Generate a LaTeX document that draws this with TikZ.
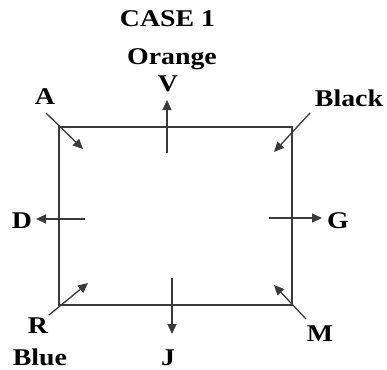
\documentclass[tikz,border=0pt]{standalone}
\usepackage{fontspec}
\setmainfont{Liberation Serif}[FakeStretch=1.16]
\usetikzlibrary{arrows.meta}
\definecolor{linegray}{HTML}{3A3A3A}
\begin{document}
\begin{tikzpicture}[x=1pt,y=-1pt,
  lbl/.style={font=\bfseries\fontsize{24}{28}\selectfont, inner sep=0pt, anchor=base},
  arr/.style={line width=1.3pt, draw=linegray, -{Triangle[length=10pt,width=9pt]}}]
\useasboundingbox (0,0) rectangle (387,369);
\node[draw=linegray, line width=1.3pt, minimum width=233pt, minimum height=178pt, inner sep=0pt] (box) at (175.5,216) {};
% labels
\node[lbl] (case) at (167.5,27) {CASE 1};
\node[lbl] (orange) at (172,64) {Orange};
\node[lbl] (V) at (168,91) {V};
\node[lbl] (A) at (45,104) {A};
\node[lbl] (black) at (349,106) {Black};
\node[lbl] (D) at (22,228) {D};
\node[lbl] (G) at (338,228) {G};
\node[lbl] (R) at (38,333) {R};
\node[lbl] (blue) at (40,365) {Blue};
\node[lbl] (J) at (168,365) {J};
\node[lbl] (M) at (320,341) {M};
% arrow ends
\coordinate (vs) at (167,153); \coordinate (vt) at (167,100);
\coordinate (as) at (46,113);  \coordinate (at) at (83,149);
\coordinate (bs) at (310,113); \coordinate (bt) at (274,152);
\coordinate (ds) at (85,219);  \coordinate (dt) at (36,219);
\coordinate (gs) at (269,218); \coordinate (gt) at (322,218);
\coordinate (rs) at (49,315);  \coordinate (rt) at (88,283);
\coordinate (js) at (172,278); \coordinate (jt) at (172,334);
\coordinate (ms) at (306,319); \coordinate (mt) at (274,285);
% arrows
\draw[arr] (vs) -- (vt);
\draw[arr] (as) -- (at);
\draw[arr] (bs) -- (bt);
\draw[arr] (ds) -- (dt);
\draw[arr] (gs) -- (gt);
\draw[arr] (rs) -- (rt);
\draw[arr] (js) -- (jt);
\draw[arr] (ms) -- (mt);
\end{tikzpicture}
\end{document}
